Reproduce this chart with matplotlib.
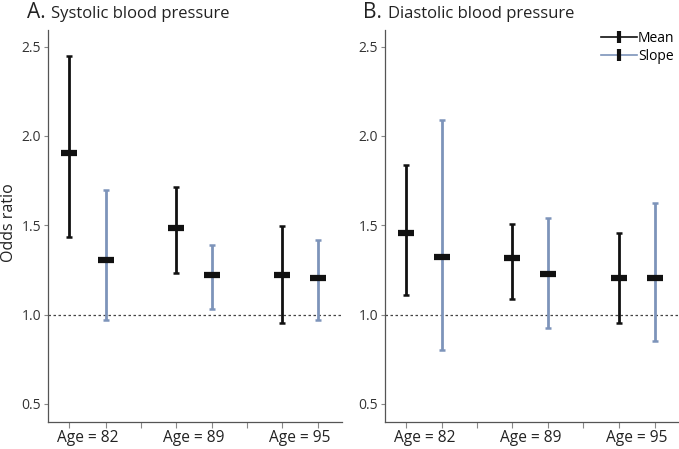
import matplotlib
matplotlib.use("Agg")
import matplotlib.pyplot as plt
from matplotlib.lines import Line2D

plt.rcParams["font.family"] = ["Open Sans", "DejaVu Sans"]

# Data
ages = ["Age = 82", "Age = 89", "Age = 95"]

sys_mean = [1.904, 1.485, 1.222]
sys_mean_lo = [1.436, 1.235, 0.954]
sys_mean_hi = [2.45, 1.714, 1.496]
sys_slope = [1.307, 1.222, 1.205]
sys_slope_lo = [0.968, 1.03, 0.972]
sys_slope_hi = [1.695, 1.388, 1.416]

dia_mean = [1.457, 1.314, 1.207]
dia_mean_lo = [1.107, 1.086, 0.951]
dia_mean_hi = [1.84, 1.508, 1.459]
dia_slope = [1.325, 1.226, 1.207]
dia_slope_lo = [0.804, 0.923, 0.853]
dia_slope_hi = [2.09, 1.543, 1.624]

yticks = [0.5, 1.0, 1.5, 2.0, 2.5]

black = "#111111"
blue = "#7d94ba"
spine = "#555555"
off = 0.17

fig = plt.figure(figsize=(6.79, 4.49), dpi=100)
axA = fig.add_axes([0.071, 0.06, 0.433, 0.873])
axB = fig.add_axes([0.567, 0.06, 0.433, 0.873])


def draw(ax, m, mlo, mhi, s, slo, shi):
    xs = range(len(ages))
    for i in xs:
        for x, c, lo, hi, col in [
            (i - off, m[i], mlo[i], mhi[i], black),
            (i + off, s[i], slo[i], shi[i], blue),
        ]:
            ax.errorbar([x], [c], yerr=[[c - lo], [hi - c]], fmt="none",
                        ecolor=col, elinewidth=2.0, capsize=2, capthick=1.8, zorder=2)
            ax.plot([x], [c], marker="_", markersize=12, markeredgewidth=4.5,
                    color=black, linestyle="none", zorder=3)
    ax.axhline(1.0, color="#444444", linestyle=(0, (2, 2)), linewidth=0.9, zorder=1)
    ax.set_xlim(-0.37, 2.4)
    ax.set_ylim(0.398, 2.593)
    ax.set_yticks(yticks)
    ax.set_yticklabels([f"{v:.1f}" for v in yticks])
    major = []
    for i in xs:
        major += [i - off, i + off]
    major += [0.5, 1.5]
    ax.set_xticks(sorted(major))
    ax.set_xticklabels([])
    ax.set_xticks(list(xs), minor=True)
    ax.set_xticklabels(ages, minor=True)
    ax.tick_params(axis="x", which="minor", length=0, pad=6, labelsize=11.2, labelcolor="#222222")
    ax.tick_params(axis="x", which="major", length=4, color="#888888", width=0.8)
    ax.tick_params(axis="y", length=3, color="#888888", width=0.8, labelsize=10, labelcolor="#333333", pad=2)
    for sp in ["top", "right"]:
        ax.spines[sp].set_visible(False)
    for sp in ["left", "bottom"]:
        ax.spines[sp].set_color(spine)
        ax.spines[sp].set_linewidth(0.9)


draw(axA, sys_mean, sys_mean_lo, sys_mean_hi, sys_slope, sys_slope_lo, sys_slope_hi)
draw(axB, dia_mean, dia_mean_lo, dia_mean_hi, dia_slope, dia_slope_lo, dia_slope_hi)

fig.text(9 / 679, 1 - 223 / 449, "Odds ratio", fontsize=11.5, color="#222222",
         rotation=90, ha="center", va="center")

fig.text(27 / 679, 1 - 18 / 449, "A.", fontsize=15, color="#222222", va="baseline")
fig.text(51 / 679, 1 - 18 / 449, "Systolic blood pressure", fontsize=12, color="#222222", va="baseline")
fig.text(363 / 679, 1 - 18 / 449, "B.", fontsize=15, color="#222222", va="baseline")
fig.text(388 / 679, 1 - 18 / 449, "Diastolic blood pressure", fontsize=12, color="#222222", va="baseline")

handles = [
    Line2D([], [], color=black, linewidth=1.2, marker="|", markersize=8,
           markeredgewidth=3, markeredgecolor=black),
    Line2D([], [], color=blue, linewidth=1.2, marker="|", markersize=8,
           markeredgewidth=3, markeredgecolor=black),
]
axB.legend(handles, ["Mean", "Slope"], loc="upper right", frameon=False,
           fontsize=10, handlelength=2.6, handletextpad=0.1, labelspacing=0.2,
           bbox_to_anchor=(0.985, 0.997), borderaxespad=0, borderpad=0)

fig.savefig("out.png", dpi=100)
